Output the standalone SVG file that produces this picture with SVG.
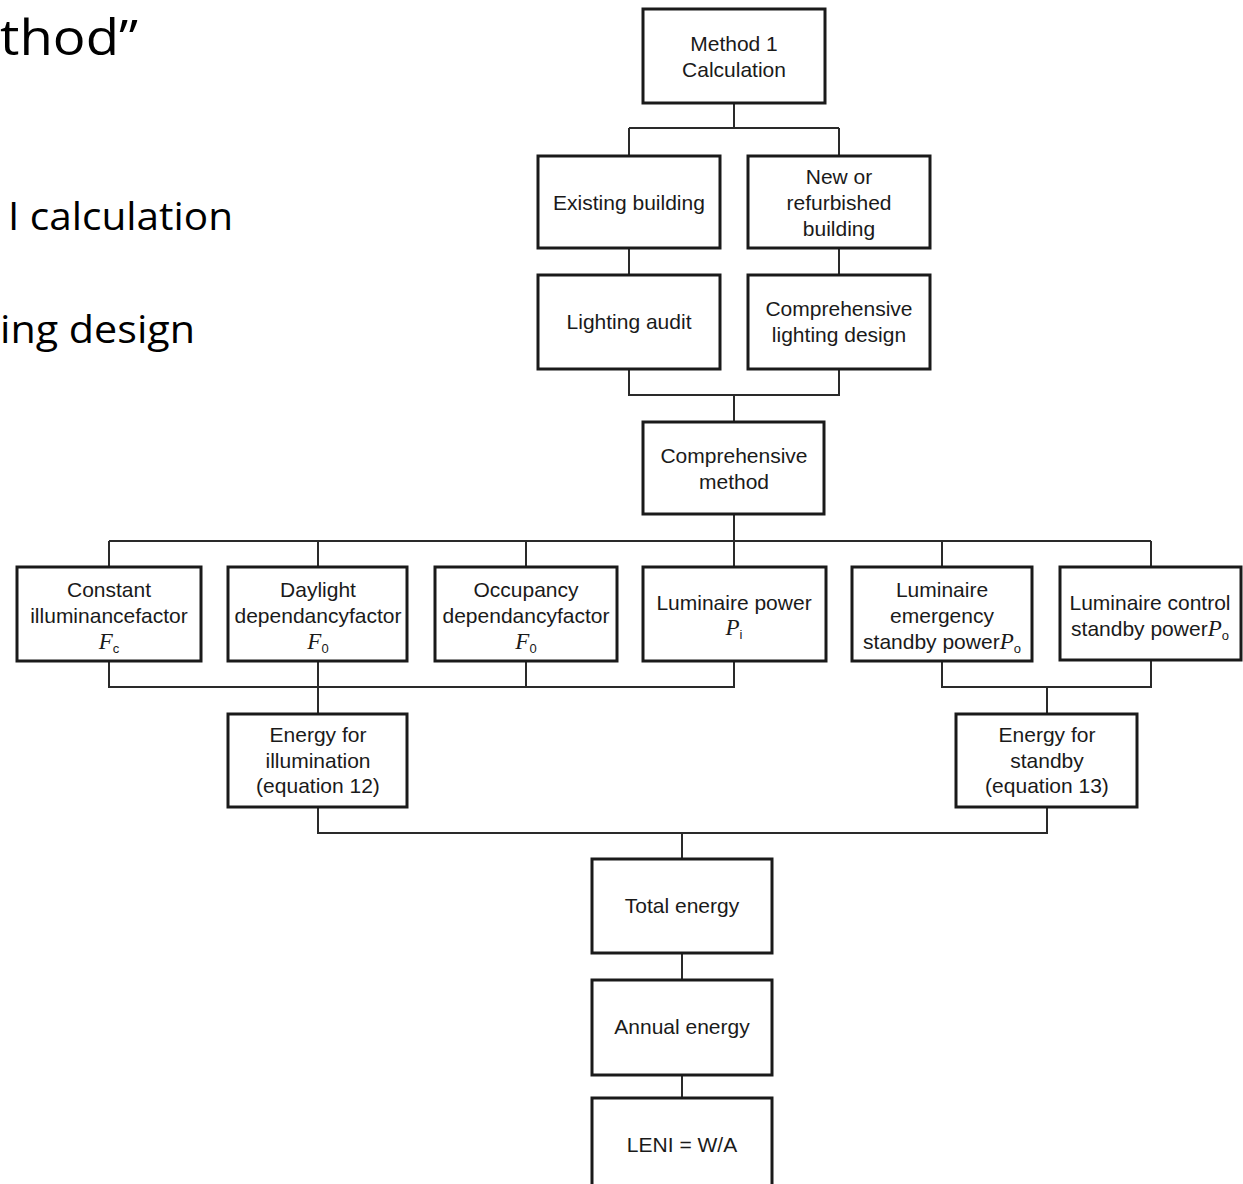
<svg xmlns="http://www.w3.org/2000/svg" width="1243" height="1184" viewBox="0 0 1243 1184">
<style>
.box{fill:#fff;stroke:#1a1a1a;stroke-width:3}
.t{font-family:"Liberation Sans",Arial,sans-serif;font-size:21px;fill:#1a1a1a;text-anchor:middle}
.m{font-family:"Liberation Serif","Times New Roman",serif;font-style:italic;font-size:23px}
.s{font-family:"Liberation Sans",Arial,sans-serif;font-style:normal;font-size:13px}
.c{fill:none;stroke:#2a2a2a;stroke-width:2}
.slide{font-family:"Open Sans","Noto Sans",sans-serif;fill:#000}
</style>
<rect width="1243" height="1184" fill="#fff"/>
<g id="slide-text">
<text class="slide" x="0" y="55" font-size="50" textLength="138" lengthAdjust="spacingAndGlyphs">thod”</text>
<text class="slide" x="8" y="230" font-size="38" textLength="225" lengthAdjust="spacingAndGlyphs">I calculation</text>
<text class="slide" x="0" y="343" font-size="38" textLength="195" lengthAdjust="spacingAndGlyphs">ing design</text>
</g>
<g id="connectors">
<path class="c" d="M734,103V128M629,128H839M629,128V156M839,128V156"/>
<path class="c" d="M629,248V275M839,248V275"/>
<path class="c" d="M629,369V395H839V369M734,395V422"/>
<path class="c" d="M734,514V541M109,541H1151M109,541V567M318,541V567M526,541V567M734,541V567M942,541V567M1151,541V567"/>
<path class="c" d="M109,661V687H734V661M318,661V714M526,661V687"/>
<path class="c" d="M942,661V687H1151V661M1047,687V714"/>
<path class="c" d="M318,807V833H1047V807M682,833V859"/>
<path class="c" d="M682,953V980M682,1075V1098"/>
</g>
<g id="n-method1"><rect class="box" x="643" y="9" width="182" height="94"/>
<text class="t" x="734" y="51">Method 1</text><text class="t" x="734" y="77">Calculation</text></g>
<g id="n-existing"><rect class="box" x="538" y="156" width="182" height="92"/>
<text class="t" x="629" y="210">Existing building</text></g>
<g id="n-new"><rect class="box" x="748" y="156" width="182" height="92"/>
<text class="t" x="839" y="184">New or</text><text class="t" x="839" y="210">refurbished</text><text class="t" x="839" y="236">building</text></g>
<g id="n-audit"><rect class="box" x="538" y="275" width="182" height="94"/>
<text class="t" x="629" y="329">Lighting audit</text></g>
<g id="n-design"><rect class="box" x="748" y="275" width="182" height="94"/>
<text class="t" x="839" y="316">Comprehensive</text><text class="t" x="839" y="342">lighting design</text></g>
<g id="n-compmethod"><rect class="box" x="643" y="422" width="181" height="92"/>
<text class="t" x="734" y="463">Comprehensive</text><text class="t" x="734" y="489">method</text></g>
<g id="n-constant"><rect class="box" x="17" y="567" width="184" height="94"/>
<text class="t" x="109" y="597">Constant</text><text class="t" x="109" y="623">illuminancefactor</text>
<text class="t" x="109" y="649"><tspan class="m">F</tspan><tspan class="s" dy="4">c</tspan></text></g>
<g id="n-daylight"><rect class="box" x="228" y="567" width="179" height="94"/>
<text class="t" x="318" y="597">Daylight</text><text class="t" x="318" y="623">dependancyfactor</text>
<text class="t" x="318" y="649"><tspan class="m">F</tspan><tspan class="s" dy="4">0</tspan></text></g>
<g id="n-occupancy"><rect class="box" x="435" y="567" width="182" height="94"/>
<text class="t" x="526" y="597">Occupancy</text><text class="t" x="526" y="623">dependancyfactor</text>
<text class="t" x="526" y="649"><tspan class="m">F</tspan><tspan class="s" dy="4">0</tspan></text></g>
<g id="n-lumpower"><rect class="box" x="643" y="567" width="183" height="94"/>
<text class="t" x="734" y="610">Luminaire power</text>
<text class="t" x="734" y="635"><tspan class="m">P</tspan><tspan class="s" dy="4">i</tspan></text></g>
<g id="n-emergency"><rect class="box" x="852" y="567" width="180" height="94"/>
<text class="t" x="942" y="597">Luminaire</text><text class="t" x="942" y="623">emergency</text>
<text class="t" x="942" y="649">standby power<tspan class="m">P</tspan><tspan class="s" dy="4">o</tspan></text></g>
<g id="n-control"><rect class="box" x="1060" y="567" width="181" height="93"/>
<text class="t" x="1150" y="610">Luminaire control</text>
<text class="t" x="1150" y="636">standby power<tspan class="m">P</tspan><tspan class="s" dy="4">o</tspan></text></g>
<g id="n-eillum"><rect class="box" x="228" y="714" width="179" height="93"/>
<text class="t" x="318" y="742">Energy for</text><text class="t" x="318" y="768">illumination</text><text class="t" x="318" y="793">(equation 12)</text></g>
<g id="n-estandby"><rect class="box" x="956" y="714" width="181" height="93"/>
<text class="t" x="1047" y="742">Energy for</text><text class="t" x="1047" y="768">standby</text><text class="t" x="1047" y="793">(equation 13)</text></g>
<g id="n-total"><rect class="box" x="592" y="859" width="180" height="94"/>
<text class="t" x="682" y="913">Total energy</text></g>
<g id="n-annual"><rect class="box" x="592" y="980" width="180" height="95"/>
<text class="t" x="682" y="1034">Annual energy</text></g>
<g id="n-leni"><rect class="box" x="592" y="1098" width="180" height="100"/>
<text class="t" x="682" y="1152">LENI = W/A</text></g>
</svg>
